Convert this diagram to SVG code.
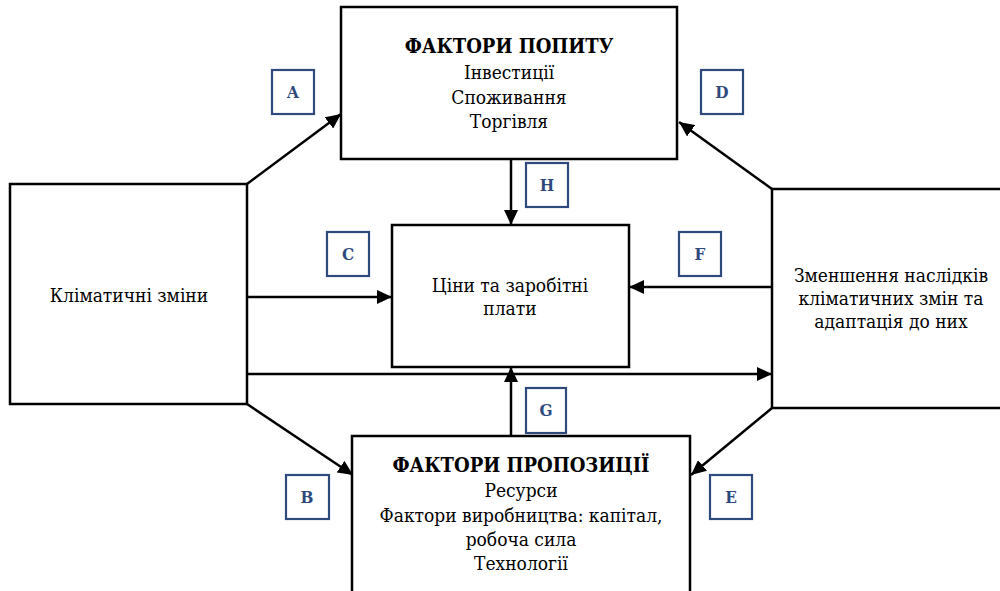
<svg xmlns="http://www.w3.org/2000/svg" width="1000" height="591" viewBox="0 0 1000 591">
<style>
.box{fill:#fff;stroke:#000;stroke-width:2.5}
text{font-family:'DejaVu Serif Condensed','DejaVu Serif','Liberation Serif',serif}
.t{font-size:19px;fill:#000;text-anchor:middle}
.b{font-weight:bold;font-size:20px}
.lb{fill:#fff;stroke:#2e4a7d;stroke-width:2.2}
.lt{font-size:17px;font-weight:bold;fill:#2e4a7d;text-anchor:middle}
.c{fill:none;stroke:#000;stroke-width:2.5;marker-end:url(#ah)}
</style>
<defs>
<marker id="ah" markerUnits="userSpaceOnUse" markerWidth="16" markerHeight="14" refX="15" refY="7" orient="auto">
<path d="M0,0 L15,7 L0,14 z" fill="#000"/>
</marker>
</defs>
<rect width="1000" height="591" fill="#fff"/>
<g id="connectors">
<path class="c" d="M247,184 L341,114"/>
<path class="c" d="M772,189 L679,122"/>
<path class="c" d="M511,159 L511,225"/>
<path class="c" d="M247,297 L392,297"/>
<path class="c" d="M772,287 L629,287"/>
<path class="c" d="M247,374 L772,374"/>
<path class="c" d="M511,436 L511,367"/>
<path class="c" d="M247,404 L353,475"/>
<path class="c" d="M772,408 L691,475"/>
</g>
<g id="demand">
<rect class="box" x="341" y="7" width="336" height="152"/>
<text class="t b" x="509" y="53">ФАКТОРИ ПОПИТУ</text>
<text class="t" x="509" y="79">Інвестиції</text>
<text class="t" x="509" y="104">Споживання</text>
<text class="t" x="509" y="128">Торгівля</text>
</g>
<g id="climate">
<rect class="box" x="10" y="184" width="237" height="220"/>
<text class="t" x="129" y="302">Кліматичні зміни</text>
</g>
<g id="prices">
<rect class="box" x="392" y="225" width="237" height="142"/>
<text class="t" x="510" y="292">Ціни та заробітні</text>
<text class="t" x="510" y="315">плати</text>
</g>
<g id="mitigation">
<rect class="box" x="772" y="189" width="240" height="219"/>
<text class="t" x="891" y="282">Зменшення наслідків</text>
<text class="t" x="891" y="305">кліматичних змін та</text>
<text class="t" x="891" y="328">адаптація до них</text>
</g>
<g id="supply">
<rect class="box" x="352" y="436" width="338" height="160"/>
<text class="t b" x="521" y="472">ФАКТОРИ ПРОПОЗИЦІЇ</text>
<text class="t" x="521" y="497">Ресурси</text>
<text class="t" x="521" y="522">Фактори виробництва: капітал,</text>
<text class="t" x="521" y="546">робоча сила</text>
<text class="t" x="521" y="570">Технології</text>
</g>
<g id="label-A"><rect class="lb" x="272" y="70" width="42" height="44"/><text class="lt" x="293" y="98">A</text></g>
<g id="label-D"><rect class="lb" x="701" y="70" width="42" height="44"/><text class="lt" x="722" y="98">D</text></g>
<g id="label-H"><rect class="lb" x="526" y="163" width="42" height="44"/><text class="lt" x="547" y="191">H</text></g>
<g id="label-C"><rect class="lb" x="327" y="232" width="42" height="44"/><text class="lt" x="348" y="260">C</text></g>
<g id="label-F"><rect class="lb" x="679" y="232" width="42" height="44"/><text class="lt" x="700" y="260">F</text></g>
<g id="label-G"><rect class="lb" x="526" y="388" width="40" height="45"/><text class="lt" x="546" y="416">G</text></g>
<g id="label-B"><rect class="lb" x="286" y="475" width="43" height="44"/><text class="lt" x="307" y="503">B</text></g>
<g id="label-E"><rect class="lb" x="710" y="475" width="42" height="44"/><text class="lt" x="731" y="503">E</text></g>
</svg>
